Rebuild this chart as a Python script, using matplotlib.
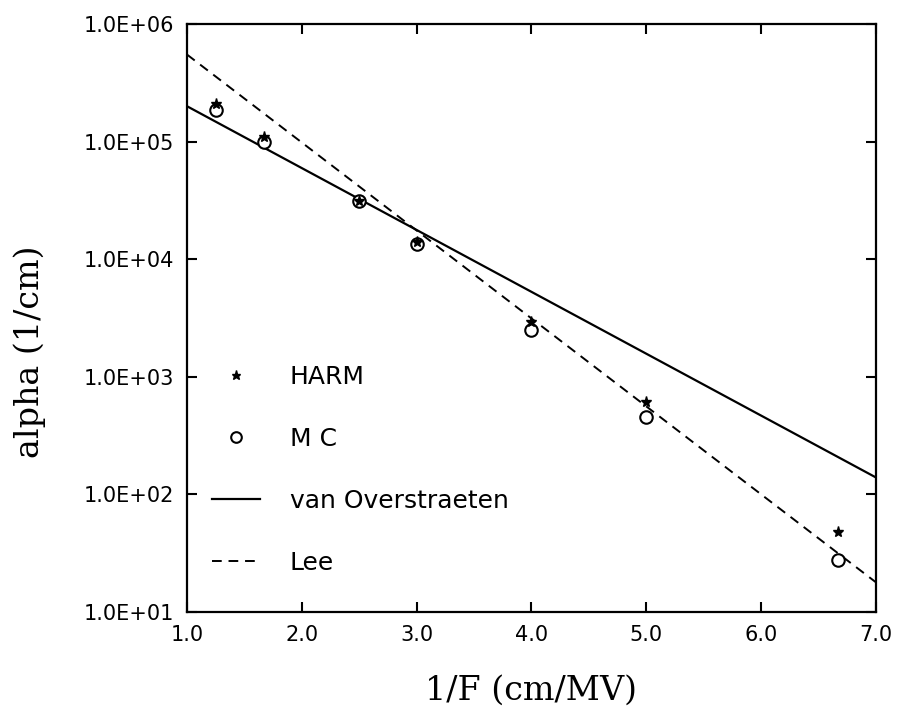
import matplotlib
matplotlib.use("Agg")
import matplotlib.pyplot as plt
from matplotlib.ticker import NullLocator, FixedLocator

# points
inv_field = [1.25, 1.67, 2.5, 3.0, 4.0, 5.0, 6.67]
harm = [2.1e5, 1.1e5, 3.1e4, 1.4e4, 2.9e3, 610, 48]
mc = [1.85e5, 1.0e5, 3.1e4, 1.35e4, 2.5e3, 455, 28]

# straight fits (end points)
fit_x = [1.0, 7.0]
van_overstraeten = [2.0e5, 140]
lee = [5.5e5, 18]

x_ticks = [1, 2, 3, 4, 5, 6, 7]
x_labels = ["1.0", "2.0", "3.0", "4.0", "5.0", "6.0", "7.0"]
y_ticks = [1e1, 1e2, 1e3, 1e4, 1e5, 1e6]
y_labels = ["1.0E+01", "1.0E+02", "1.0E+03", "1.0E+04", "1.0E+05", "1.0E+06"]

fig = plt.figure(figsize=(8.99, 7.06), dpi=100)
ax = fig.add_axes([0.208, 0.133, 0.766, 0.833])

ax.plot(inv_field, harm, linestyle="none", marker="*", ms=8, color="black",
        label="HARM", zorder=4)
ax.plot(inv_field, mc, linestyle="none", marker="o", ms=9, mfc="white",
        mec="black", mew=1.5, label="M C", zorder=3)
ax.plot(fit_x, van_overstraeten, "-", color="black", lw=1.6,
        label="van Overstraeten")
ax.plot(fit_x, lee, color="black", lw=1.4, linestyle=(0, (5, 3.5)),
        label="Lee")

ax.set_yscale("log")
ax.set_xlim(1, 7)
ax.set_ylim(1e1, 1e6)
ax.xaxis.set_major_locator(FixedLocator(x_ticks))
ax.set_xticklabels(x_labels)
ax.yaxis.set_major_locator(FixedLocator(y_ticks))
ax.set_yticklabels(y_labels)
ax.yaxis.set_minor_locator(NullLocator())
ax.xaxis.set_minor_locator(NullLocator())

ax.tick_params(direction="in", length=7, width=1.5, top=True, right=True,
               labelsize=15, pad=9)
for s in ax.spines.values():
    s.set_linewidth(1.6)

ax.set_xlabel("1/F (cm/MV)", family="DejaVu Serif", fontsize=24, labelpad=22)
ax.set_ylabel("alpha (1/cm)", family="DejaVu Serif", fontsize=24)
ax.yaxis.set_label_coords(-0.205, 0.442)

ax.legend(loc="upper left", bbox_to_anchor=(0.036, 0.42), frameon=False,
          fontsize=18, labelspacing=1.52, handlelength=1.92,
          handletextpad=1.2, borderpad=0, borderaxespad=0, numpoints=1,
          markerscale=0.85)

fig.savefig("out.png", dpi=100)
